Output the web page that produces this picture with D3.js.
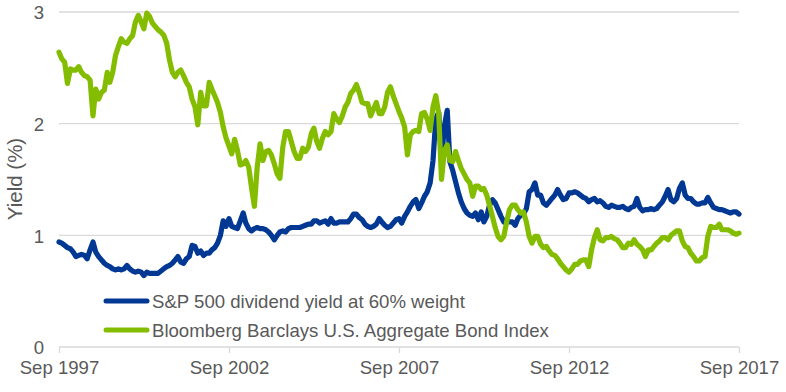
<!DOCTYPE html>
<html>
<head>
<meta charset="utf-8">
<script src="https://cdn.jsdelivr.net/npm/d3@7"></script>
<style>
  html, body { margin: 0; padding: 0; background: #ffffff; }
  svg { display: block; }
  text { font-family: "Liberation Sans", Arial, sans-serif; fill: #595959; }
</style>
</head>
<body>
<svg id="chart" width="786" height="392"></svg>
<script>
// ---- Data (monthly, Sep 1997 .. Sep 2017) ----
const startMonth = "1997-09";
const endMonth = "2017-09";

const seriesNames = [
  "S&P 500 dividend yield at 60% weight",
  "Bloomberg Barclays U.S. Aggregate Bond Index"
];

const spDividendYield = [
  0.94,0.93,0.91,0.89,0.88,0.85,0.81,0.82,0.83,0.82,0.79,0.87,0.94,0.85,0.81,0.78,0.75,0.73,0.72,0.70,
  0.69,0.70,0.69,0.70,0.73,0.70,0.68,0.67,0.68,0.67,0.64,0.67,0.66,0.66,0.66,0.66,0.68,0.70,0.72,0.73,
  0.75,0.78,0.81,0.76,0.75,0.79,0.81,0.91,0.90,0.84,0.86,0.82,0.84,0.84,0.87,0.89,0.93,1.00,1.13,1.08,
  1.15,1.08,1.07,1.06,1.13,1.20,1.11,1.06,1.04,1.06,1.07,1.06,1.06,1.05,1.03,1.00,0.96,1.00,1.03,1.04,
  1.03,1.06,1.07,1.07,1.07,1.07,1.08,1.09,1.10,1.10,1.13,1.13,1.11,1.12,1.13,1.10,1.15,1.11,1.11,1.12,
  1.12,1.12,1.12,1.15,1.19,1.19,1.16,1.14,1.10,1.08,1.07,1.08,1.10,1.15,1.12,1.09,1.07,1.08,1.11,1.14,
  1.15,1.11,1.17,1.21,1.26,1.30,1.32,1.24,1.29,1.35,1.39,1.47,1.67,2.05,2.10,1.66,1.98,2.12,1.66,1.58,
  1.48,1.38,1.30,1.24,1.20,1.18,1.17,1.20,1.14,1.21,1.12,1.17,1.27,1.32,1.29,1.23,1.17,1.12,1.14,1.12,
  1.12,1.09,1.15,1.18,1.19,1.24,1.39,1.41,1.47,1.36,1.36,1.29,1.27,1.30,1.33,1.36,1.41,1.36,1.32,1.33,
  1.38,1.38,1.39,1.38,1.36,1.34,1.33,1.30,1.32,1.33,1.30,1.31,1.29,1.26,1.25,1.27,1.26,1.25,1.25,1.26,
  1.24,1.23,1.25,1.26,1.33,1.25,1.22,1.23,1.23,1.24,1.23,1.24,1.27,1.30,1.35,1.41,1.32,1.30,1.33,1.42,
  1.47,1.36,1.33,1.33,1.30,1.28,1.28,1.29,1.29,1.34,1.29,1.25,1.24,1.23,1.23,1.22,1.21,1.20,1.21,1.21,
  1.19
];

const aggBondYield = [
  2.64,2.58,2.55,2.36,2.49,2.48,2.48,2.51,2.46,2.43,2.42,2.39,2.07,2.31,2.22,2.28,2.30,2.46,2.37,2.46,
  2.61,2.69,2.76,2.73,2.72,2.76,2.79,2.91,2.97,2.91,2.85,2.99,2.96,2.90,2.87,2.84,2.82,2.79,2.72,2.57,
  2.46,2.42,2.46,2.48,2.43,2.37,2.33,2.22,2.15,1.99,2.28,2.16,2.16,2.37,2.31,2.25,2.19,2.10,1.97,1.87,
  1.80,1.73,1.86,1.76,1.63,1.64,1.67,1.61,1.43,1.26,1.61,1.82,1.67,1.75,1.76,1.72,1.64,1.55,1.51,1.79,
  1.93,1.93,1.84,1.75,1.69,1.69,1.78,1.75,1.79,1.91,1.96,1.84,1.78,1.87,1.93,1.90,1.93,2.09,2.04,2.01,
  2.07,2.15,2.19,2.27,2.30,2.35,2.28,2.19,2.18,2.18,2.07,2.13,2.19,2.09,2.09,2.15,2.28,2.33,2.25,2.18,
  2.11,2.05,1.97,1.72,1.90,1.93,1.94,1.93,2.09,2.10,2.04,1.94,2.15,2.25,2.09,1.50,1.76,1.81,1.67,1.66,
  1.75,1.67,1.60,1.55,1.50,1.47,1.35,1.44,1.44,1.41,1.42,1.36,1.27,1.17,1.07,0.99,0.96,0.99,1.12,1.23,
  1.27,1.27,1.23,1.20,1.21,1.12,0.99,0.93,0.99,0.99,0.92,0.89,0.90,0.86,0.83,0.82,0.79,0.75,0.72,0.69,
  0.67,0.70,0.74,0.74,0.77,0.78,0.78,0.72,0.87,0.98,1.05,0.96,0.95,0.98,0.98,0.99,0.97,0.96,0.93,0.89,
  0.89,0.93,0.92,0.96,0.92,0.90,0.87,0.81,0.87,0.87,0.90,0.93,0.95,0.98,0.98,0.96,1.00,1.02,1.04,1.04,
  0.95,0.90,0.89,0.84,0.81,0.77,0.77,0.80,0.81,0.99,1.08,1.07,1.07,1.10,1.05,1.05,1.05,1.04,1.02,1.01,
  1.02
];

const tickDates = ["1997-09", "2002-09", "2007-09", "2012-09", "2017-09"];
const tickLabels = ["Sep 1997", "Sep 2002", "Sep 2007", "Sep 2012", "Sep 2017"];
const yTicks = [0, 1, 2, 3];
const yTitle = "Yield (%)";
const colors = ["#003893", "#84BD00"];

// ---- Build ----
const parseMonth = d3.timeParse("%Y-%m");
const months = d3.timeMonth.range(parseMonth(startMonth), d3.timeMonth.offset(parseMonth(endMonth), 1));

const svg = d3.select("#chart");
svg.append("rect").attr("width", 786).attr("height", 392).attr("fill", "#ffffff");

const x = d3.scaleTime().domain([parseMonth(startMonth), parseMonth(endMonth)]).range([59, 739]);
const y = d3.scaleLinear().domain([0, 3]).range([347, 12]);

// gridlines
svg.append("g").selectAll("line").data(yTicks.filter(d => d > 0)).join("line")
  .attr("x1", 59).attr("x2", 739)
  .attr("y1", d => y(d)).attr("y2", d => y(d))
  .attr("stroke", "#d9d9d9").attr("stroke-width", 1.3);

// y axis labels
const yAxis = d3.axisLeft(y).tickValues(yTicks).tickSize(0).tickPadding(0).tickFormat(d3.format("d"));
const gy = svg.append("g").attr("transform", "translate(44,0)").call(yAxis);
gy.select(".domain").remove();
gy.selectAll("text").attr("font-size", "18.6px").attr("fill", "#595959")
  .style("font-family", '"Liberation Sans", Arial, sans-serif').attr("x", 0).attr("dy", "0.36em");

// x axis
const xAxis = d3.axisBottom(x).tickValues(tickDates.map(parseMonth)).tickSize(6).tickPadding(0)
  .tickFormat((d, i) => tickLabels[i]);
const gx = svg.append("g").attr("transform", `translate(0,${y(0)})`).call(xAxis);
gx.select(".domain").attr("stroke", "#d9d9d9").attr("stroke-width", 1.3).attr("d", "M59,0H739");
gx.selectAll(".tick line").attr("stroke", "#d9d9d9").attr("stroke-width", 1.3);
gx.selectAll(".tick text").attr("font-size", "18.6px").attr("fill", "#595959")
  .style("font-family", '"Liberation Sans", Arial, sans-serif').attr("y", 27).attr("dy", 0);

// y title
svg.append("text").attr("transform", "translate(22,179) rotate(-90)")
  .attr("text-anchor", "middle").attr("font-size", "20.5px").text(yTitle);

// lines
const line = d3.line().x((d, i) => x(months[i])).y(d => y(d));
[spDividendYield, aggBondYield].forEach((vals, k) => {
  svg.append("path").datum(vals).attr("d", line)
    .attr("fill", "none").attr("stroke", colors[k]).attr("stroke-width", 5.2)
    .attr("stroke-linejoin", "round").attr("stroke-linecap", "round");
});

// legend
const legendY = [301, 330];
seriesNames.forEach((name, k) => {
  svg.append("line").attr("x1", 106).attr("x2", 147).attr("y1", legendY[k]).attr("y2", legendY[k])
    .attr("stroke", colors[k]).attr("stroke-width", 5).attr("stroke-linecap", "round");
  svg.append("text").attr("x", 152).attr("y", legendY[k] + 6.5).attr("font-size", "18.6px").text(name);
});
</script>
</body>
</html>
